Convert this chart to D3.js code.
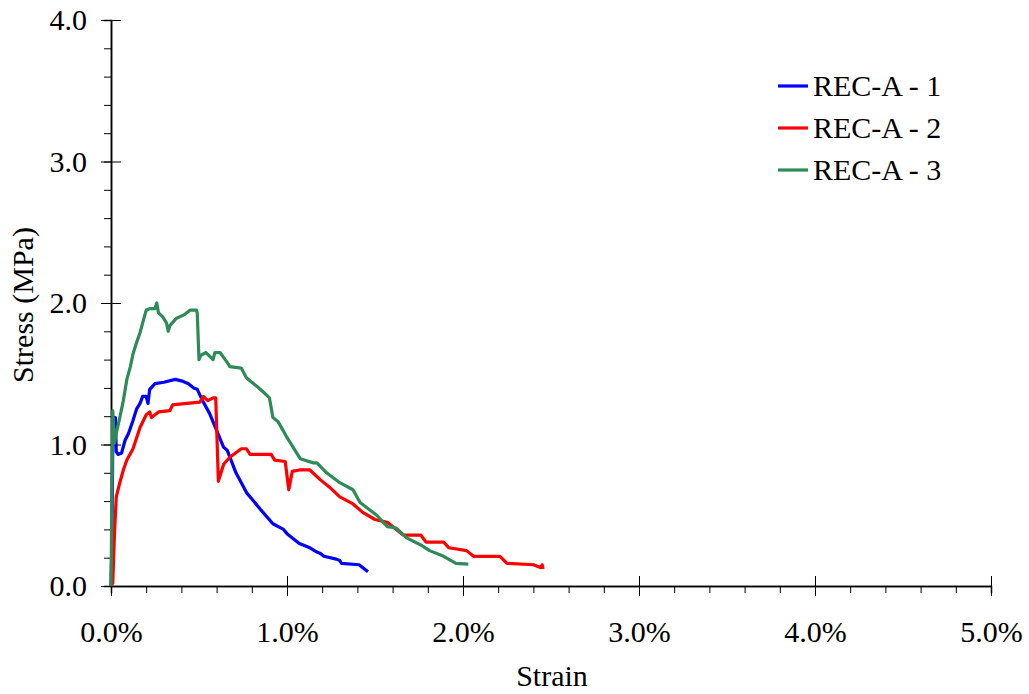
<!DOCTYPE html>
<html><head><meta charset="utf-8">
<script src="https://cdn.jsdelivr.net/npm/d3@7"></script>
<style>body{margin:0;background:#fff}svg text{font-family:"Liberation Serif","Times New Roman",serif;fill:#000}</style>
</head><body><svg id="c" width="1029" height="694"></svg>
<script>
// strain in %, stress in MPa
const seriesNames = ["REC-A - 1", "REC-A - 2", "REC-A - 3"];
const seriesColors = ["#0000ff", "#ff0000", "#2e8b57"];
const rec1 = [[0,0],[0.005,0.3],[0.01,1.0],[0.015,1.19],[0.025,1.19],[0.03,0.95],[0.04,0.93],[0.06,0.94],[0.08,1.03],[0.10,1.08],[0.125,1.17],[0.145,1.25],[0.165,1.29],[0.18,1.34],[0.20,1.34],[0.21,1.29],[0.22,1.39],[0.25,1.43],[0.30,1.44],[0.365,1.46],[0.40,1.45],[0.44,1.43],[0.47,1.40],[0.49,1.39],[0.52,1.31],[0.56,1.22],[0.60,1.10],[0.64,0.98],[0.66,0.96],[0.71,0.80],[0.77,0.66],[0.81,0.60],[0.85,0.54],[0.92,0.44],[0.98,0.40],[1.00,0.37],[1.05,0.32],[1.07,0.30],[1.13,0.27],[1.17,0.24],[1.19,0.23],[1.21,0.21],[1.28,0.19],[1.30,0.18],[1.31,0.16],[1.41,0.15],[1.44,0.12],[1.46,0.10]];
const rec2 = [[0,0],[0.01,0.02],[0.02,0.38],[0.03,0.63],[0.05,0.73],[0.07,0.82],[0.09,0.89],[0.125,0.97],[0.165,1.12],[0.20,1.21],[0.22,1.23],[0.23,1.19],[0.27,1.23],[0.335,1.24],[0.35,1.28],[0.43,1.29],[0.505,1.30],[0.525,1.34],[0.55,1.31],[0.58,1.33],[0.595,1.33],[0.61,0.74],[0.64,0.86],[0.675,0.91],[0.74,0.97],[0.77,0.97],[0.79,0.93],[0.91,0.93],[0.93,0.89],[0.99,0.88],[1.01,0.68],[1.03,0.81],[1.07,0.82],[1.13,0.82],[1.19,0.75],[1.24,0.70],[1.30,0.63],[1.375,0.58],[1.43,0.52],[1.50,0.47],[1.57,0.45],[1.66,0.36],[1.76,0.36],[1.79,0.31],[1.89,0.31],[1.92,0.27],[2.02,0.25],[2.06,0.21],[2.21,0.21],[2.25,0.16],[2.40,0.15],[2.44,0.13],[2.45,0.15],[2.455,0.12]];
const rec3 = [[0,0],[0.005,0.6],[0.01,1.24],[0.02,1.01],[0.03,1.08],[0.05,1.19],[0.07,1.31],[0.09,1.46],[0.11,1.55],[0.125,1.64],[0.145,1.72],[0.165,1.79],[0.18,1.86],[0.20,1.95],[0.22,1.96],[0.25,1.96],[0.26,2.00],[0.27,1.93],[0.295,1.90],[0.315,1.86],[0.325,1.80],[0.335,1.84],[0.37,1.89],[0.42,1.92],[0.45,1.95],[0.485,1.95],[0.49,1.93],[0.50,1.60],[0.51,1.63],[0.54,1.65],[0.58,1.60],[0.59,1.65],[0.62,1.65],[0.66,1.58],[0.675,1.55],[0.74,1.54],[0.77,1.47],[0.83,1.41],[0.875,1.36],[0.90,1.33],[0.92,1.19],[0.95,1.16],[1.00,1.05],[1.035,0.98],[1.075,0.90],[1.15,0.87],[1.17,0.87],[1.225,0.80],[1.30,0.73],[1.375,0.68],[1.415,0.59],[1.51,0.50],[1.57,0.42],[1.62,0.41],[1.68,0.34],[1.76,0.29],[1.81,0.25],[1.89,0.21],[1.96,0.16],[2.03,0.155]];
const seriesData = [rec1, rec2, rec3];
const xTicks = [0,1,2,3,4,5];
const yTicks = [0,1,2,3,4];

const svg = d3.select("#c");
const L = 111, R = 991, T = 20, B = 586;
const x = d3.scaleLinear().domain([0,5]).range([L,R]);
const y = d3.scaleLinear().domain([0,4]).range([B,T]);
const FONT = "'Liberation Serif','Times New Roman',serif";

// axes
const xa = svg.append("g").attr("transform",`translate(0,${B})`);
xa.call(d3.axisBottom(x).tickValues(d3.range(0,5.001,0.2)).tickSize(7).tickFormat(""));
const xb = svg.append("g").attr("transform",`translate(0,${B})`);
xb.call(d3.axisBottom(x).tickValues(xTicks).tickSizeInner(10).tickSizeOuter(0).tickPadding(25).tickFormat(d=>d.toFixed(1)+"%"));
xb.selectAll(".tick line").attr("y1",-10);
const ya = svg.append("g").attr("transform",`translate(${L},0)`);
ya.call(d3.axisLeft(y).tickValues(d3.range(0,4.001,0.2)).tickSize(7).tickFormat(""));
const yb = svg.append("g").attr("transform",`translate(${L},0)`);
yb.call(d3.axisLeft(y).tickValues(yTicks).tickSizeInner(10).tickSizeOuter(0).tickPadding(14).tickFormat(d=>d.toFixed(1)));
yb.selectAll(".tick line").attr("x1",10);
svg.selectAll(".domain").attr("stroke","#000").attr("stroke-width",1.5);
svg.selectAll(".tick line").attr("stroke","#000").attr("stroke-width",1);
svg.selectAll(".tick text").style("font-size","30px").style("font-family",FONT).attr("fill","#000");

// lines
const line = d3.line().x(d=>x(d[0])).y(d=>y(d[1]));
seriesData.forEach((s,i)=>{
  svg.append("path").datum(s).attr("d",line).attr("fill","none")
    .attr("stroke",seriesColors[i]).attr("stroke-width",3.2).attr("stroke-linejoin","round");
});

// titles
svg.append("text").attr("x",552).attr("y",686).attr("text-anchor","middle").style("font-size","30px").text("Strain");
svg.append("text").attr("transform","translate(33,305) rotate(-90)").attr("text-anchor","middle").style("font-size","30px").text("Stress (MPa)");

// legend
seriesNames.forEach((n,i)=>{
  const yy = 86 + i*42;
  svg.append("line").attr("x1",778).attr("x2",808).attr("y1",yy).attr("y2",yy).attr("stroke",seriesColors[i]).attr("stroke-width",3.2);
  svg.append("text").attr("x",813).attr("y",yy+10).style("font-size","30px").text(n);
});
</script></body></html>
